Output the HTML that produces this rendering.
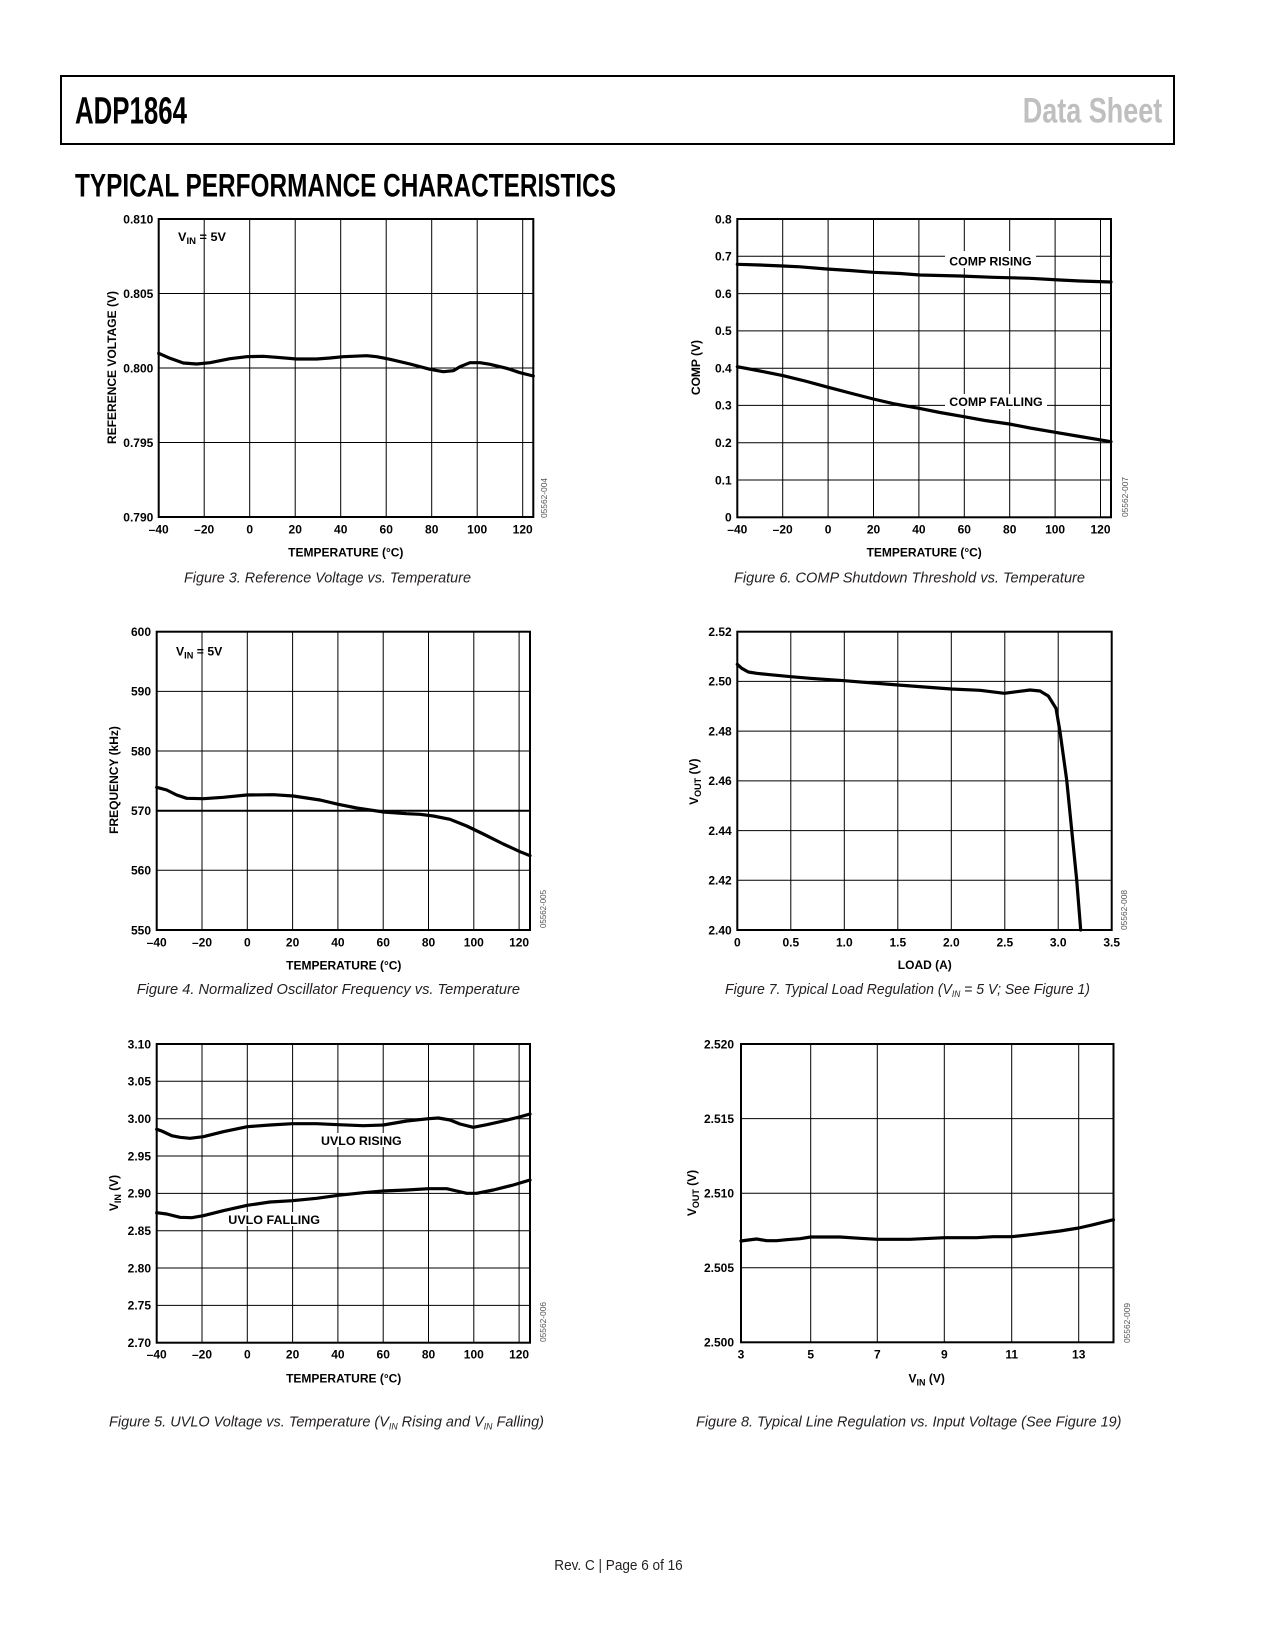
<!DOCTYPE html>
<html><head><meta charset="utf-8"><style>html,body{margin:0;padding:0;background:#fff}svg{display:block}</style></head>
<body>
<svg width="1275" height="1650" viewBox="0 0 1275 1650" xmlns="http://www.w3.org/2000/svg" font-family="'Liberation Sans', Arial, sans-serif">
<rect width="1275" height="1650" fill="#fff"/>
<!-- Header -->
<rect x="61" y="76" width="1113" height="68" fill="none" stroke="#000" stroke-width="2"/>
<text x="75" y="123.3" font-size="38" font-weight="bold" textLength="112" lengthAdjust="spacingAndGlyphs">ADP1864</text>
<text x="1022.7" y="122.3" font-size="35" font-weight="bold" fill="#bfbfbf" textLength="139.6" lengthAdjust="spacingAndGlyphs">Data Sheet</text>
<text x="75" y="196.7" font-size="32.5" font-weight="bold" textLength="541" lengthAdjust="spacingAndGlyphs">TYPICAL PERFORMANCE CHARACTERISTICS</text>

<g font-size="12" font-weight="bold" fill="#000">
<!-- ========== Chart 1 ========== -->
<g stroke="#000" stroke-width="1">
<line x1="204.2" y1="219" x2="204.2" y2="517"/><line x1="249.7" y1="219" x2="249.7" y2="517"/><line x1="295.2" y1="219" x2="295.2" y2="517"/><line x1="340.7" y1="219" x2="340.7" y2="517"/><line x1="386.2" y1="219" x2="386.2" y2="517"/><line x1="431.7" y1="219" x2="431.7" y2="517"/><line x1="477.2" y1="219" x2="477.2" y2="517"/><line x1="522.7" y1="219" x2="522.7" y2="517"/>
<line x1="158.7" y1="293.5" x2="533.3" y2="293.5"/><line x1="158.7" y1="368" x2="533.3" y2="368"/><line x1="158.7" y1="442.5" x2="533.3" y2="442.5"/>
</g>
<rect x="158.7" y="219" width="374.6" height="298" fill="none" stroke="#000" stroke-width="2"/>
<polyline fill="none" stroke="#000" stroke-width="3.2" stroke-linejoin="round" stroke-linecap="round" points="158.7,353.3 170,358.3 183.3,363 196.7,364 210,362.7 230,358.7 246.7,356.7 263.3,356.3 276.7,357.3 296.7,359 316.7,359 330,358 343.3,356.7 366.7,355.7 376.7,356.7 390,359.3 410,364 430,369.3 443.3,371.7 453.3,370.7 460,366.7 470,362.7 480,362.7 490,364.3 506.7,368.3 520,372.7 533.3,376"/>
<text x="178" y="241" textLength="48" lengthAdjust="spacingAndGlyphs">V<tspan font-size="9" dy="3">IN</tspan><tspan dy="-3"> = 5V</tspan></text>
<g text-anchor="end">
<text x="153.3" y="223.3">0.810</text><text x="153.3" y="297.8">0.805</text><text x="153.3" y="372.3">0.800</text><text x="153.3" y="446.8">0.795</text><text x="153.3" y="521.3">0.790</text>
</g>
<g text-anchor="middle">
<text x="158.7" y="533.3">–40</text><text x="204.2" y="533.3">–20</text><text x="249.7" y="533.3">0</text><text x="295.2" y="533.3">20</text><text x="340.7" y="533.3">40</text><text x="386.2" y="533.3">60</text><text x="431.7" y="533.3">80</text><text x="477.2" y="533.3">100</text><text x="522.7" y="533.3">120</text>
<text x="345.8" y="556.7">TEMPERATURE (°C)</text>
<text transform="translate(116,367.5) rotate(-90)">REFERENCE VOLTAGE (V)</text>
</g>
<text transform="translate(547,518) rotate(-90)" font-size="8" font-weight="normal" fill="#555" textLength="40" lengthAdjust="spacingAndGlyphs">05562-004</text>

<!-- ========== Chart 6 ========== -->
<g stroke="#000" stroke-width="1">
<line x1="782.7" y1="219" x2="782.7" y2="517.3"/><line x1="828.1" y1="219" x2="828.1" y2="517.3"/><line x1="873.5" y1="219" x2="873.5" y2="517.3"/><line x1="918.9" y1="219" x2="918.9" y2="517.3"/><line x1="964.3" y1="219" x2="964.3" y2="517.3"/><line x1="1009.7" y1="219" x2="1009.7" y2="517.3"/><line x1="1055.1" y1="219" x2="1055.1" y2="517.3"/><line x1="1100.5" y1="219" x2="1100.5" y2="517.3"/>
<line x1="737.3" y1="256.3" x2="1111" y2="256.3"/><line x1="737.3" y1="293.6" x2="1111" y2="293.6"/><line x1="737.3" y1="330.9" x2="1111" y2="330.9"/><line x1="737.3" y1="368.2" x2="1111" y2="368.2"/><line x1="737.3" y1="405.4" x2="1111" y2="405.4"/><line x1="737.3" y1="442.7" x2="1111" y2="442.7"/><line x1="737.3" y1="480" x2="1111" y2="480"/>
</g>
<rect x="945" y="251" width="91" height="17" fill="#fff"/>
<rect x="945" y="394" width="102" height="15" fill="#fff"/>
<rect x="737.3" y="219" width="373.7" height="298.3" fill="none" stroke="#000" stroke-width="2"/>
<polyline fill="none" stroke="#000" stroke-width="3.2" stroke-linejoin="round" stroke-linecap="round" points="737.3,264.3 760,265 783,266 800,266.8 826.7,269 850,270.5 873.3,272.3 900,273.5 920,275 960,276 993.3,277.3 1030,278.3 1060,280 1080,281 1111,282"/>
<polyline fill="none" stroke="#000" stroke-width="3.2" stroke-linejoin="round" stroke-linecap="round" points="737.3,366.7 760,371 783.3,375.7 805,381 828.3,387.3 850,393 873.3,399 895,404 919,408.3 940,412.5 964,416.7 985,420.5 1009.3,424 1030,428 1055.3,432.3 1080,436.5 1111,441.7"/>
<text x="949.3" y="265.7" textLength="82.4" lengthAdjust="spacingAndGlyphs">COMP RISING</text>
<text x="949.3" y="406" textLength="93.4" lengthAdjust="spacingAndGlyphs">COMP FALLING</text>
<g text-anchor="end">
<text x="731.7" y="223.3">0.8</text><text x="731.7" y="260.6">0.7</text><text x="731.7" y="297.9">0.6</text><text x="731.7" y="335.2">0.5</text><text x="731.7" y="372.5">0.4</text><text x="731.7" y="409.7">0.3</text><text x="731.7" y="447">0.2</text><text x="731.7" y="484.3">0.1</text><text x="731.7" y="521.6">0</text>
</g>
<g text-anchor="middle">
<text x="737.3" y="533.3">–40</text><text x="782.7" y="533.3">–20</text><text x="828.1" y="533.3">0</text><text x="873.5" y="533.3">20</text><text x="918.9" y="533.3">40</text><text x="964.3" y="533.3">60</text><text x="1009.7" y="533.3">80</text><text x="1055.1" y="533.3">100</text><text x="1100.5" y="533.3">120</text>
<text x="924.2" y="556.7">TEMPERATURE (°C)</text>
<text transform="translate(700,367.5) rotate(-90)">COMP (V)</text>
</g>
<text transform="translate(1128,517) rotate(-90)" font-size="8" font-weight="normal" fill="#555" textLength="40" lengthAdjust="spacingAndGlyphs">05562-007</text>

<!-- ========== Chart 4 ========== -->
<g stroke="#000" stroke-width="1">
<line x1="202" y1="631.7" x2="202" y2="930"/><line x1="247.3" y1="631.7" x2="247.3" y2="930"/><line x1="292.6" y1="631.7" x2="292.6" y2="930"/><line x1="337.9" y1="631.7" x2="337.9" y2="930"/><line x1="383.2" y1="631.7" x2="383.2" y2="930"/><line x1="428.5" y1="631.7" x2="428.5" y2="930"/><line x1="473.8" y1="631.7" x2="473.8" y2="930"/><line x1="519.1" y1="631.7" x2="519.1" y2="930"/>
<line x1="156.7" y1="691.4" x2="530" y2="691.4"/><line x1="156.7" y1="751" x2="530" y2="751"/><line x1="156.7" y1="870.3" x2="530" y2="870.3"/>
</g>
<line x1="156.7" y1="810.7" x2="530" y2="810.7" stroke="#000" stroke-width="2"/>
<rect x="156.7" y="631.7" width="373.3" height="298.3" fill="none" stroke="#000" stroke-width="2"/>
<polyline fill="none" stroke="#000" stroke-width="3.2" stroke-linejoin="round" stroke-linecap="round" points="156.7,787.3 166.7,790 176.7,795 186.7,798.3 203.3,798.7 223.3,797.3 246.7,795 273.3,794.7 293.3,796 320,800 338.3,804.3 356.7,808 383.3,812 406.7,813.7 420,814.3 433.3,816 450,819.3 466.7,826 483.3,834 503.3,844 520,851.7 530,855.7"/>
<text x="176" y="655.5" textLength="46.3" lengthAdjust="spacingAndGlyphs">V<tspan font-size="9" dy="3">IN</tspan><tspan dy="-3"> = 5V</tspan></text>
<g text-anchor="end">
<text x="151" y="636">600</text><text x="151" y="695.7">590</text><text x="151" y="755.3">580</text><text x="151" y="815">570</text><text x="151" y="874.6">560</text><text x="151" y="934.3">550</text>
</g>
<g text-anchor="middle">
<text x="156.7" y="946.7">–40</text><text x="202" y="946.7">–20</text><text x="247.3" y="946.7">0</text><text x="292.6" y="946.7">20</text><text x="337.9" y="946.7">40</text><text x="383.2" y="946.7">60</text><text x="428.5" y="946.7">80</text><text x="473.8" y="946.7">100</text><text x="519.1" y="946.7">120</text>
<text x="343.8" y="969.3">TEMPERATURE (°C)</text>
<text transform="translate(118,780) rotate(-90)">FREQUENCY (kHz)</text>
</g>
<text transform="translate(546,928) rotate(-90)" font-size="8" font-weight="normal" fill="#555" textLength="38" lengthAdjust="spacingAndGlyphs">05562-005</text>

<!-- ========== Chart 7 ========== -->
<g stroke="#000" stroke-width="1">
<line x1="790.8" y1="631.7" x2="790.8" y2="930"/><line x1="844.3" y1="631.7" x2="844.3" y2="930"/><line x1="897.8" y1="631.7" x2="897.8" y2="930"/><line x1="951.3" y1="631.7" x2="951.3" y2="930"/><line x1="1004.8" y1="631.7" x2="1004.8" y2="930"/><line x1="1058.2" y1="631.7" x2="1058.2" y2="930"/>
<line x1="737.3" y1="681.4" x2="1111.7" y2="681.4"/><line x1="737.3" y1="731.1" x2="1111.7" y2="731.1"/><line x1="737.3" y1="780.9" x2="1111.7" y2="780.9"/><line x1="737.3" y1="830.6" x2="1111.7" y2="830.6"/><line x1="737.3" y1="880.3" x2="1111.7" y2="880.3"/>
</g>
<rect x="737.3" y="631.7" width="374.4" height="298.3" fill="none" stroke="#000" stroke-width="2"/>
<polyline fill="none" stroke="#000" stroke-width="3.2" stroke-linejoin="round" stroke-linecap="round" points="737.3,664.3 741.7,668.3 748.3,672 756.7,673.3 770,674.7 791,676.7 810,678.3 844.3,680.7 898,685 951.3,689 980,690.3 1004.3,693.3 1016.7,691.7 1030,690 1040,691 1048.3,696 1056,708.3 1060,731.7 1066.7,780 1071.7,830 1076.7,880 1080.7,930"/>
<g text-anchor="end">
<text x="731.7" y="636">2.52</text><text x="731.7" y="685.7">2.50</text><text x="731.7" y="735.4">2.48</text><text x="731.7" y="785.2">2.46</text><text x="731.7" y="834.9">2.44</text><text x="731.7" y="884.6">2.42</text><text x="731.7" y="934.3">2.40</text>
</g>
<g text-anchor="middle">
<text x="737.3" y="946.7">0</text><text x="790.8" y="946.7">0.5</text><text x="844.3" y="946.7">1.0</text><text x="897.8" y="946.7">1.5</text><text x="951.3" y="946.7">2.0</text><text x="1004.8" y="946.7">2.5</text><text x="1058.2" y="946.7">3.0</text><text x="1111.7" y="946.7">3.5</text>
<text x="924.8" y="969">LOAD (A)</text>
<text transform="translate(698,781.7) rotate(-90)">V<tspan font-size="9" dy="3">OUT</tspan><tspan dy="-3"> (V)</tspan></text>
</g>
<text transform="translate(1127,930) rotate(-90)" font-size="8" font-weight="normal" fill="#555" textLength="40" lengthAdjust="spacingAndGlyphs">05562-008</text>

<!-- ========== Chart 5 ========== -->
<g stroke="#000" stroke-width="1">
<line x1="202" y1="1044" x2="202" y2="1342.7"/><line x1="247.3" y1="1044" x2="247.3" y2="1342.7"/><line x1="292.6" y1="1044" x2="292.6" y2="1342.7"/><line x1="337.9" y1="1044" x2="337.9" y2="1342.7"/><line x1="383.2" y1="1044" x2="383.2" y2="1342.7"/><line x1="428.5" y1="1044" x2="428.5" y2="1342.7"/><line x1="473.8" y1="1044" x2="473.8" y2="1342.7"/><line x1="519.1" y1="1044" x2="519.1" y2="1342.7"/>
<line x1="156.7" y1="1081.3" x2="530" y2="1081.3"/><line x1="156.7" y1="1118.7" x2="530" y2="1118.7"/><line x1="156.7" y1="1156" x2="530" y2="1156"/><line x1="156.7" y1="1193.4" x2="530" y2="1193.4"/><line x1="156.7" y1="1230.7" x2="530" y2="1230.7"/><line x1="156.7" y1="1268" x2="530" y2="1268"/><line x1="156.7" y1="1305.4" x2="530" y2="1305.4"/>
</g>
<rect x="318" y="1133" width="87" height="14" fill="#fff"/>
<rect x="225" y="1212" width="98" height="14" fill="#fff"/>
<rect x="156.7" y="1044" width="373.3" height="298.7" fill="none" stroke="#000" stroke-width="2"/>
<polyline fill="none" stroke="#000" stroke-width="3.2" stroke-linejoin="round" stroke-linecap="round" points="156.7,1129.3 161.7,1131 171.7,1135.7 180,1137.3 190,1138.3 203.3,1136.7 223.3,1131.7 247.3,1126.7 270,1125 292.3,1123.7 316.7,1123.7 338.3,1124.7 363.3,1125.7 383.3,1125 406.7,1121 428.7,1118.7 438.3,1118 450,1120 460,1124 473.3,1127.3 486.7,1124.7 503.3,1121 519.3,1117 530,1114"/>
<polyline fill="none" stroke="#000" stroke-width="3.2" stroke-linejoin="round" stroke-linecap="round" points="156.7,1212.7 166.7,1214 180,1217.3 191.7,1217.7 203.3,1215.7 223.3,1210.7 247.3,1205.3 270,1202 292.3,1200.7 316.7,1198.3 338.3,1195.3 363.3,1192.7 383.3,1191 406.7,1190 428.7,1188.7 446.7,1188.7 456.7,1191 466.7,1193.3 476.7,1193.3 493.3,1190 513.3,1185 530,1180"/>
<text x="321" y="1145" textLength="80.7" lengthAdjust="spacingAndGlyphs">UVLO RISING</text>
<text x="228.3" y="1224" textLength="91.7" lengthAdjust="spacingAndGlyphs">UVLO FALLING</text>
<g text-anchor="end">
<text x="151" y="1048.3">3.10</text><text x="151" y="1085.6">3.05</text><text x="151" y="1123">3.00</text><text x="151" y="1160.3">2.95</text><text x="151" y="1197.7">2.90</text><text x="151" y="1235">2.85</text><text x="151" y="1272.3">2.80</text><text x="151" y="1309.7">2.75</text><text x="151" y="1347">2.70</text>
</g>
<g text-anchor="middle">
<text x="156.7" y="1358.3">–40</text><text x="202" y="1358.3">–20</text><text x="247.3" y="1358.3">0</text><text x="292.6" y="1358.3">20</text><text x="337.9" y="1358.3">40</text><text x="383.2" y="1358.3">60</text><text x="428.5" y="1358.3">80</text><text x="473.8" y="1358.3">100</text><text x="519.1" y="1358.3">120</text>
<text x="343.7" y="1382.3">TEMPERATURE (°C)</text>
<text transform="translate(118,1193) rotate(-90)">V<tspan font-size="9" dy="3">IN</tspan><tspan dy="-3"> (V)</tspan></text>
</g>
<text transform="translate(546,1342) rotate(-90)" font-size="8" font-weight="normal" fill="#555" textLength="40" lengthAdjust="spacingAndGlyphs">05562-006</text>

<!-- ========== Chart 8 ========== -->
<g stroke="#000" stroke-width="1">
<line x1="810.7" y1="1044" x2="810.7" y2="1342.3"/><line x1="877.3" y1="1044" x2="877.3" y2="1342.3"/><line x1="944.3" y1="1044" x2="944.3" y2="1342.3"/><line x1="1011.7" y1="1044" x2="1011.7" y2="1342.3"/><line x1="1078.7" y1="1044" x2="1078.7" y2="1342.3"/>
<line x1="741" y1="1118.6" x2="1113.5" y2="1118.6"/><line x1="741" y1="1193.2" x2="1113.5" y2="1193.2"/><line x1="741" y1="1267.7" x2="1113.5" y2="1267.7"/>
</g>
<rect x="741" y="1044" width="372.5" height="298.3" fill="none" stroke="#000" stroke-width="2"/>
<polyline fill="none" stroke="#000" stroke-width="3.2" stroke-linejoin="round" stroke-linecap="round" points="741,1241 748.3,1240 756.7,1239 766.7,1240.7 776.7,1240.7 786.7,1239.7 800,1238.7 810.7,1237 840,1237 860,1238.3 877.3,1239.3 910,1239.3 944.3,1237.7 976.7,1237.7 993.3,1236.7 1011.7,1236.7 1033.3,1234.3 1060,1231 1078.7,1228 1093.3,1224.7 1113.5,1219.7"/>
<g text-anchor="end">
<text x="734" y="1048.3">2.520</text><text x="734" y="1122.9">2.515</text><text x="734" y="1197.5">2.510</text><text x="734" y="1272">2.505</text><text x="734" y="1346.6">2.500</text>
</g>
<g text-anchor="middle">
<text x="741" y="1358.3">3</text><text x="810.7" y="1358.3">5</text><text x="877.3" y="1358.3">7</text><text x="944.3" y="1358.3">9</text><text x="1011.7" y="1358.3">11</text><text x="1078.7" y="1358.3">13</text>
<text x="926.7" y="1382.3">V<tspan font-size="9" dy="3">IN</tspan><tspan dy="-3"> (V)</tspan></text>
<text transform="translate(696,1193) rotate(-90)">V<tspan font-size="9" dy="3">OUT</tspan><tspan dy="-3"> (V)</tspan></text>
</g>
<text transform="translate(1130,1343) rotate(-90)" font-size="8" font-weight="normal" fill="#555" textLength="40" lengthAdjust="spacingAndGlyphs">05562-009</text>
</g>

<!-- Captions -->
<g font-size="15" font-style="italic" fill="#231f20">
<text x="184" y="582.5" textLength="287" lengthAdjust="spacingAndGlyphs">Figure 3. Reference Voltage vs. Temperature</text>
<text x="734" y="582.5" textLength="351" lengthAdjust="spacingAndGlyphs">Figure 6. COMP Shutdown Threshold vs. Temperature</text>
<text x="136.7" y="994" textLength="383.3" lengthAdjust="spacingAndGlyphs">Figure 4. Normalized Oscillator Frequency vs. Temperature</text>
<text x="725" y="994" textLength="365" lengthAdjust="spacingAndGlyphs">Figure 7. Typical Load Regulation (V<tspan font-size="9" dy="3">IN</tspan><tspan dy="-3"> = 5 V; See Figure 1)</tspan></text>
<text x="109" y="1426.7" textLength="435" lengthAdjust="spacingAndGlyphs">Figure 5. UVLO Voltage vs. Temperature (V<tspan font-size="9" dy="3">IN</tspan><tspan dy="-3"> Rising and V</tspan><tspan font-size="9" dy="3">IN</tspan><tspan dy="-3"> Falling)</tspan></text>
<text x="696" y="1426.7" textLength="425.5" lengthAdjust="spacingAndGlyphs">Figure 8. Typical Line Regulation vs. Input Voltage (See Figure 19)</text>
</g>
<text x="554.3" y="1570" font-size="15" fill="#231f20" textLength="128.4" lengthAdjust="spacingAndGlyphs">Rev. C | Page 6 of 16</text>
</svg>
</body></html>
